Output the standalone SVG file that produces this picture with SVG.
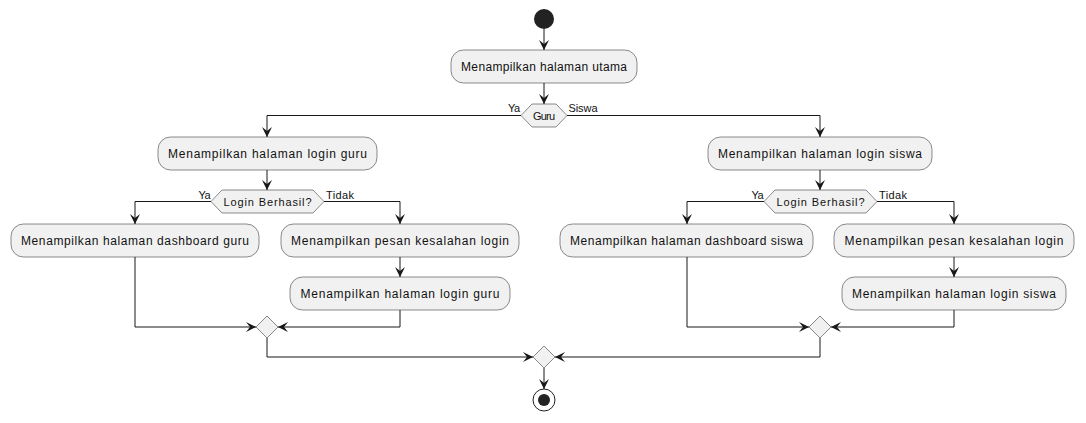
<svg xmlns="http://www.w3.org/2000/svg" width="1086" height="423" viewBox="0 0 1086 423">
<defs>
<style>
.box{fill:#F1F1F1;stroke:#181818;stroke-width:0.5}
.dia{fill:#F1F1F1;stroke:#181818;stroke-width:0.5}
.ln{fill:none;stroke:#181818;stroke-width:1}
.t{font-family:"Liberation Sans",Arial,sans-serif;font-size:12px;fill:#111;text-anchor:middle}
.s{font-family:"Liberation Sans",Arial,sans-serif;font-size:11px;fill:#111}
.sc{text-anchor:middle}
.se{text-anchor:end}
</style>
<marker id="ar" viewBox="0 0 10 10" refX="10" refY="5" markerWidth="10" markerHeight="10" markerUnits="userSpaceOnUse" orient="auto">
<path d="M0,0 L10,5 L0,10 L4,5 Z" fill="#181818"/>
</marker>
</defs>
<rect width="1086" height="423" fill="#FFFFFF"/>

<g id="connectors">
<path class="ln" d="M544,29 V50" marker-end="url(#ar)"/>
<path class="ln" d="M544,83 V104" marker-end="url(#ar)"/>
<path class="ln" d="M521,115.5 H267 V137" marker-end="url(#ar)"/>
<path class="ln" d="M567,115.5 H820 V137" marker-end="url(#ar)"/>
<path class="ln" d="M267,170 V190" marker-end="url(#ar)"/>
<path class="ln" d="M820,170 V190" marker-end="url(#ar)"/>
<path class="ln" d="M211,201.5 H135 V224" marker-end="url(#ar)"/>
<path class="ln" d="M324,201.5 H400 V224" marker-end="url(#ar)"/>
<path class="ln" d="M764,201.5 H687 V224" marker-end="url(#ar)"/>
<path class="ln" d="M877,201.5 H954 V224" marker-end="url(#ar)"/>
<path class="ln" d="M400,257 V277" marker-end="url(#ar)"/>
<path class="ln" d="M954,257 V277" marker-end="url(#ar)"/>
<path class="ln" d="M135,257 V327 H256" marker-end="url(#ar)"/>
<path class="ln" d="M400,310 V327 H278" marker-end="url(#ar)"/>
<path class="ln" d="M687,257 V327 H809" marker-end="url(#ar)"/>
<path class="ln" d="M954,310 V327 H831" marker-end="url(#ar)"/>
<path class="ln" d="M267,338 V357 H533" marker-end="url(#ar)"/>
<path class="ln" d="M820,338 V357 H555" marker-end="url(#ar)"/>
<path class="ln" d="M544,368 V389" marker-end="url(#ar)"/>
<text class="s" x="508" y="112" textLength="12" lengthAdjust="spacing">Ya</text>
<text class="s" x="568.5" y="112" textLength="29" lengthAdjust="spacing">Siswa</text>
<text class="s" x="198.5" y="199" textLength="12" lengthAdjust="spacing">Ya</text>
<text class="s" x="326" y="199" textLength="28" lengthAdjust="spacing">Tidak</text>
<text class="s" x="751.5" y="199" textLength="12" lengthAdjust="spacing">Ya</text>
<text class="s" x="879" y="199" textLength="28" lengthAdjust="spacing">Tidak</text>
</g>

<g id="start"><circle cx="544" cy="19" r="10" fill="#222222"/></g>

<g id="utama">
<rect class="box" x="451" y="50" width="186" height="33" rx="12.5"/>
<text class="t" x="544" y="71" textLength="166" lengthAdjust="spacing">Menampilkan halaman utama</text>
</g>

<g id="guru-decision">
<polygon class="dia" points="521,115.5 532,104 556,104 567,115.5 556,127 532,127"/>
<text class="s sc" x="544" y="119.5" textLength="22" lengthAdjust="spacing">Guru</text>
</g>

<g id="login-guru">
<rect class="box" x="158" y="137" width="219" height="33" rx="12.5"/>
<text class="t" x="267.5" y="158" textLength="199" lengthAdjust="spacing">Menampilkan halaman login guru</text>
</g>

<g id="login-siswa">
<rect class="box" x="708" y="137" width="224" height="33" rx="12.5"/>
<text class="t" x="820" y="158" textLength="204" lengthAdjust="spacing">Menampilkan halaman login siswa</text>
</g>

<g id="berhasil-guru">
<polygon class="dia" points="211,201.5 222,190 313,190 324,201.5 313,213 222,213"/>
<text class="s sc" x="267.5" y="205.5" textLength="88" lengthAdjust="spacing">Login Berhasil?</text>
</g>

<g id="berhasil-siswa">
<polygon class="dia" points="764,201.5 775,190 866,190 877,201.5 866,213 775,213"/>
<text class="s sc" x="820.5" y="205.5" textLength="88" lengthAdjust="spacing">Login Berhasil?</text>
</g>

<g id="dashboard-guru">
<rect class="box" x="11" y="224" width="248" height="33" rx="12.5"/>
<text class="t" x="135" y="245" textLength="228" lengthAdjust="spacing">Menampilkan halaman dashboard guru</text>
</g>

<g id="kesalahan-guru">
<rect class="box" x="281" y="224" width="238" height="33" rx="12.5"/>
<text class="t" x="400" y="245" textLength="218" lengthAdjust="spacing">Menampilkan pesan kesalahan login</text>
</g>

<g id="dashboard-siswa">
<rect class="box" x="560" y="224" width="253" height="33" rx="12.5"/>
<text class="t" x="686.5" y="245" textLength="233" lengthAdjust="spacing">Menampilkan halaman dashboard siswa</text>
</g>

<g id="kesalahan-siswa">
<rect class="box" x="834" y="224" width="240" height="33" rx="12.5"/>
<text class="t" x="954" y="245" textLength="219" lengthAdjust="spacing">Menampilkan pesan kesalahan login</text>
</g>

<g id="login-guru-2">
<rect class="box" x="290" y="277" width="220" height="33" rx="12.5"/>
<text class="t" x="400" y="298" textLength="199" lengthAdjust="spacing">Menampilkan halaman login guru</text>
</g>

<g id="login-siswa-2">
<rect class="box" x="842" y="277" width="224" height="33" rx="12.5"/>
<text class="t" x="954" y="298" textLength="204" lengthAdjust="spacing">Menampilkan halaman login siswa</text>
</g>

<g id="merge-guru"><polygon class="dia" points="267,316 278,327 267,338 256,327"/></g>
<g id="merge-siswa"><polygon class="dia" points="820,316 831,327 820,338 809,327"/></g>
<g id="merge-final"><polygon class="dia" points="544,346 555,357 544,368 533,357"/></g>

<g id="end">
<circle cx="544" cy="400" r="11" fill="none" stroke="#222222" stroke-width="1"/>
<circle cx="544" cy="400" r="6" fill="#222222"/>
</g>
</svg>
